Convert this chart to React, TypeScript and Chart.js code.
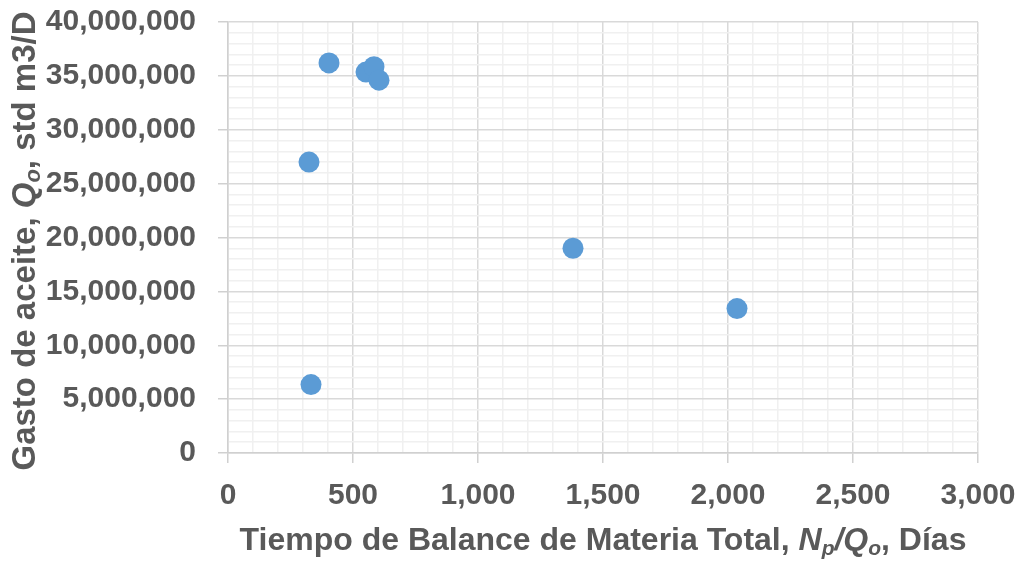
import React, { useEffect, useRef } from "react";
import { Chart, registerables } from "chart.js";

Chart.register(...registerables);

const xValues = [404, 552, 584, 604, 324, 332, 1380, 2036];
const yValues = [36200000, 35350000, 35850000, 34600000, 27000000, 6350000, 19000000, 13400000];
const xMajorStep = 500;
const yMajorStep = 5000000;
const xMinorStep = 100;
const yMinorStep = 1000000;

const FONT = "'Liberation Sans', Arial, sans-serif";
const TEXT_COLOR = "#595959";

type Seg = { t: string; italic?: boolean; sub?: boolean };

const xTitle: Seg[] = [
  { t: "Tiempo de Balance de Materia Total, " },
  { t: "N", italic: true },
  { t: "p", italic: true, sub: true },
  { t: "/Q", italic: true },
  { t: "o", italic: true, sub: true },
  { t: ", Días" },
];
const yTitle: Seg[] = [
  { t: "Gasto de aceite, " },
  { t: "Q", italic: true },
  { t: "o", italic: true, sub: true },
  { t: ", std m3/D" },
];

function segFont(s: Seg, size: number) {
  const sz = s.sub ? Math.round(size * 0.66) : size;
  return `${s.italic ? "italic " : ""}bold ${sz}px ${FONT}`;
}

function drawRich(ctx: CanvasRenderingContext2D, segs: Seg[], cx: number, cy: number, rot: number, size: number) {
  ctx.save();
  ctx.translate(cx, cy);
  ctx.rotate(rot);
  ctx.fillStyle = TEXT_COLOR;
  ctx.textBaseline = "middle";
  ctx.textAlign = "left";
  let total = 0;
  for (const s of segs) {
    ctx.font = segFont(s, size);
    total += ctx.measureText(s.t).width;
  }
  let x = -total / 2;
  for (const s of segs) {
    ctx.font = segFont(s, size);
    ctx.fillText(s.t, x, s.sub ? size * 0.25 : 0);
    x += ctx.measureText(s.t).width;
  }
  ctx.restore();
}

const titlePlugin = {
  id: "richTitles",
  afterDraw(chart: any) {
    const ctx = chart.ctx as CanvasRenderingContext2D;
    const area = chart.chartArea;
    drawRich(ctx, xTitle, (area.left + area.right) / 2, 541, 0, 32);
    drawRich(ctx, yTitle, 26, 241, -Math.PI / 2, 33);
  },
};

const fmt = (v: number) => v.toLocaleString("en-US");

export default function App() {
  const ref = useRef<HTMLCanvasElement | null>(null);
  useEffect(() => {
    if (!ref.current) return;
    const chart = new Chart(ref.current, {
      type: "scatter",
      data: {
        datasets: [
          {
            data: xValues.map((x, i) => ({ x, y: yValues[i] })),
            backgroundColor: "#5b9bd5",
            borderColor: "#5b9bd5",
            pointRadius: 10.5,
            pointHoverRadius: 10.5,
            borderWidth: 0,
          },
        ],
      },
      options: {
        responsive: false,
        animation: false,
        layout: { padding: { top: 22, right: 41, left: 0, bottom: 0 } },
        plugins: { legend: { display: false }, tooltip: { enabled: false } },
        scales: {
          x: {
            type: "linear",
            min: 0,
            max: 3000,
            afterFit: (s: any) => {
              s.height = 108;
              s.paddingLeft = 0;
              s.paddingRight = 0;
              s.paddingTop = 0;
              s.paddingBottom = 0;
            },
            border: { color: "#d0d0d0", width: 1.5 },
            grid: {
              color: (c: any) => (c.tick && c.tick.value % xMajorStep === 0 ? "#d9d9d9" : "#f0f0f0"),
              lineWidth: 1.5,
              tickColor: (c: any) => (c.tick && c.tick.value % xMajorStep === 0 ? "#d0d0d0" : "rgba(0,0,0,0)"),
              tickLength: 10,
            },
            ticks: {
              stepSize: xMinorStep,
              autoSkip: false,
              maxRotation: 0,
              padding: 15,
              color: TEXT_COLOR,
              font: { family: FONT, size: 30, weight: "bold" },
              callback: (v: any) => (Number(v) % xMajorStep === 0 ? fmt(Number(v)) : ""),
            },
          },
          y: {
            type: "linear",
            min: 0,
            max: 40000000,
            afterFit: (s: any) => {
              s.width = 228;
              s.paddingLeft = 0;
              s.paddingRight = 0;
              s.paddingTop = 0;
              s.paddingBottom = 0;
            },
            border: { color: "#d0d0d0", width: 1.5 },
            grid: {
              color: (c: any) => (c.tick && c.tick.value % yMajorStep === 0 ? "#d9d9d9" : "#f0f0f0"),
              lineWidth: 1.5,
              tickColor: (c: any) => (c.tick && c.tick.value % yMajorStep === 0 ? "#d0d0d0" : "rgba(0,0,0,0)"),
              tickLength: 10,
            },
            ticks: {
              stepSize: yMinorStep,
              autoSkip: false,
              padding: 22,
              color: TEXT_COLOR,
              font: { family: FONT, size: 30, weight: "bold" },
              callback: (v: any) => (Number(v) % yMajorStep === 0 ? fmt(Number(v)) : ""),
            },
          },
        },
      },
      plugins: [titlePlugin],
    } as any);
    return () => chart.destroy();
  }, []);
  return (
    <div style={{ position: "fixed", left: 0, top: 0, width: 1019, height: 561, background: "#fff" }}>
      <canvas ref={ref} width={1019} height={561} />
    </div>
  );
}
